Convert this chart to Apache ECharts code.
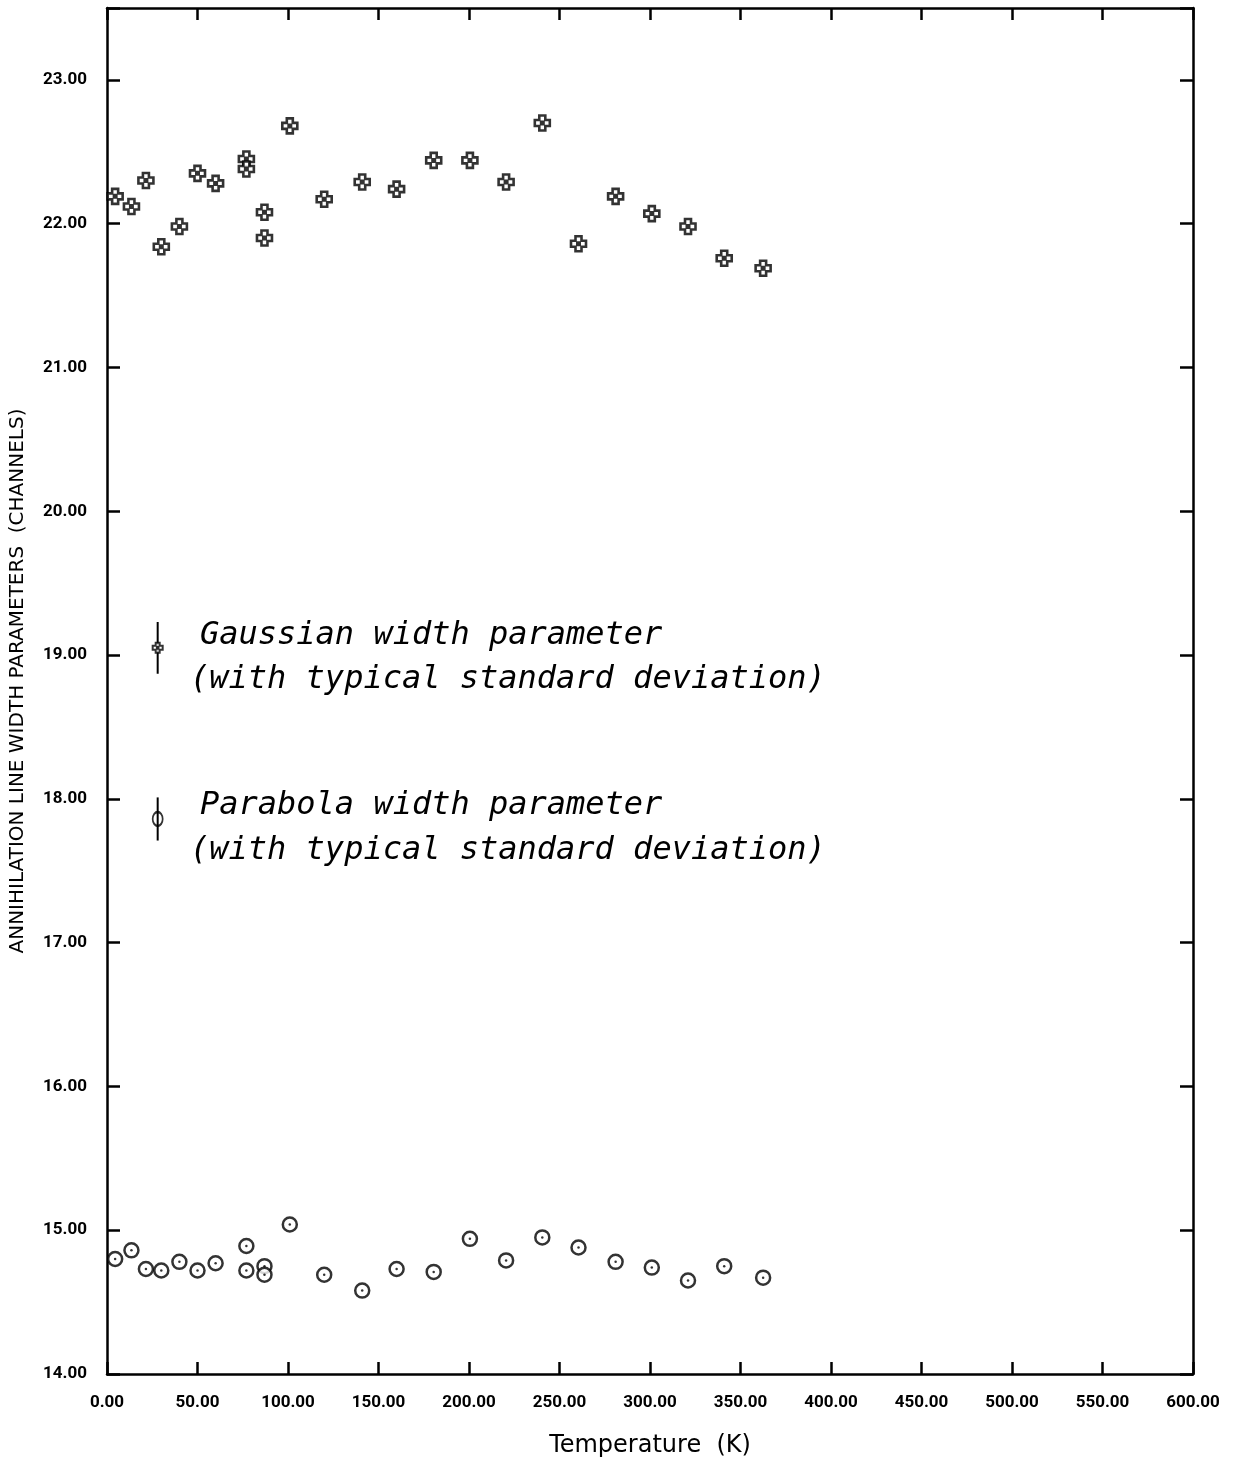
<!DOCTYPE html>
<html>
<head>
<meta charset="utf-8">
<script src="https://cdn.jsdelivr.net/npm/echarts@6.0.0/dist/echarts.min.js"></script>
<style>
  html, body { margin: 0; padding: 0; background: #fff; }
  #chart { width: 1242px; height: 1465px; }
</style>
</head>
<body>
<div id="chart"></div>
<script>
// temperatures (K) of the measurements
var temps = [4.5, 13.5, 21.5, 30, 40, 50, 60, 77, 77, 87, 87, 101, 120, 141, 160,
    180.5, 200.5, 220.5, 240.5, 260.5, 281, 301, 321, 341, 362.5];
// gaussian width parameter (channels)
var gaussian = [22.19, 22.12, 22.30, 21.84, 21.98, 22.35, 22.28, 22.45, 22.38, 22.08, 21.90, 22.68, 22.17,
    22.29, 22.24, 22.44, 22.44, 22.29, 22.70, 21.86, 22.19, 22.07, 21.98, 21.76, 21.69];
// parabola width parameter (channels)
var parabola = [14.80, 14.86, 14.73, 14.72, 14.78, 14.72, 14.77, 14.89, 14.72, 14.75, 14.69, 15.04, 14.69,
    14.58, 14.73, 14.71, 14.94, 14.79, 14.95, 14.88, 14.78, 14.74, 14.65, 14.75, 14.67];
// key samples: [temperature, value, typical standard deviation]
var gaussSample = [28, 19.05, 0.18];
var paraSample = [28, 17.86, 0.15];
var xTicks = { min: 0, max: 600, step: 50 };
var yTicks = { min: 14, max: 23.5, step: 1 };

var crossPath = 'path://M3,0L7,0L7,3L10,3L10,7L7,7L7,10L3,10L3,7L0,7L0,3L3,3ZM4.2,4.2L5.8,4.2L5.8,5.8L4.2,5.8Z';

function pairs(xs, ys) {
    return xs.map(function (x, i) { return [x, ys[i]]; });
}

var chart = echarts.init(document.getElementById('chart'));

var labelFont = { fontFamily: 'Roboto', fontWeight: 'bold', fontSize: 17, color: '#000' };
var lineStyle = { color: '#000', width: 2.5 };

function xAxis(pos, labels) {
    return {
        type: 'value', position: pos,
        min: xTicks.min, max: xTicks.max, interval: xTicks.step,
        axisLine: { show: true, onZero: false, lineStyle: lineStyle },
        axisTick: { show: true, inside: true, length: 12, lineStyle: lineStyle },
        axisLabel: Object.assign({
            show: labels, margin: 20,
            formatter: function (v) { return v.toFixed(2); }
        }, labelFont),
        splitLine: { show: false }
    };
}

function yAxis(pos, labels) {
    return {
        type: 'value', position: pos,
        min: yTicks.min, max: yTicks.max, interval: yTicks.step,
        axisLine: { show: true, onZero: false, lineStyle: lineStyle },
        axisTick: { show: true, inside: true, length: 13, lineStyle: lineStyle },
        axisLabel: Object.assign({
            show: labels, margin: 20,
            formatter: function (v) { return v % 1 === 0 ? v.toFixed(2) : ''; }
        }, labelFont),
        splitLine: { show: false }
    };
}

var xa = xAxis('bottom', true);
xa.name = 'Temperature  (K)';
xa.nameLocation = 'middle';
xa.nameGap = 60;
xa.nameTextStyle = { fontFamily: 'DejaVu Sans', fontSize: 24, color: '#000' };

var ya = yAxis('left', true);
ya.name = 'ANNIHILATION LINE WIDTH PARAMETERS  (CHANNELS)';
ya.nameLocation = 'middle';
ya.nameGap = 79;
ya.nameTextStyle = { fontFamily: 'DejaVu Sans', fontSize: 20, color: '#000', padding: [0, 0, 0, 20] };

function errorBar(params, api) {
    var x = api.value(0), y = api.value(1), sd = api.value(2);
    var top = api.coord([x, y + sd]);
    var bot = api.coord([x, y - sd]);
    return {
        type: 'line',
        shape: { x1: top[0], y1: top[1], x2: bot[0], y2: bot[1] },
        style: { stroke: '#000', lineWidth: 2 }
    };
}

var keyFont = '32px "DejaVu Sans Mono"';
var keyStyle = function (txt) {
    return { text: txt, font: 'oblique ' + keyFont, fill: '#000', verticalAlign: 'middle' };
};

var option = {
    backgroundColor: '#fff',
    animation: false,
    grid: { left: 107, right: 49, top: 8, bottom: 91, outerBoundsMode: 'none' },
    xAxis: [xa, xAxis('top', false)],
    yAxis: [ya, yAxis('right', false)],
    series: [
        {
            type: 'scatter', name: 'Gaussian',
            data: pairs(temps, gaussian),
            symbol: crossPath, symbolSize: 15,
            itemStyle: { color: '#fff', borderColor: '#000', borderWidth: 2.6 }
        },
        {
            type: 'scatter', name: 'Parabola',
            data: pairs(temps, parabola),
            symbol: 'circle', symbolSize: 14,
            itemStyle: { color: '#fff', borderColor: '#000', borderWidth: 2.5 }
        },
        {
            type: 'scatter', name: 'Parabola centre',
            data: pairs(temps, parabola),
            symbol: 'circle', symbolSize: 2.5,
            itemStyle: { color: '#000' }, z: 3
        },
        {
            type: 'custom', name: 'key bars',
            renderItem: errorBar,
            data: [gaussSample, paraSample], z: 1
        },
        {
            type: 'scatter', name: 'key gaussian',
            data: [gaussSample.slice(0, 2)],
            symbol: crossPath, symbolSize: 10,
            itemStyle: { color: '#fff', borderColor: '#000', borderWidth: 2 }, z: 4
        },
        {
            type: 'scatter', name: 'key parabola',
            data: [paraSample.slice(0, 2)],
            symbol: 'circle', symbolSize: [10, 14],
            itemStyle: { color: 'rgba(0,0,0,0)', borderColor: '#000', borderWidth: 2 }, z: 4
        }
    ],
    graphic: [
        { type: 'text', x: 200, y: 636, style: keyStyle('Gaussian width parameter') },
        { type: 'text', x: 190, y: 680, style: keyStyle('(with typical standard deviation)') },
        { type: 'text', x: 200, y: 806, style: keyStyle('Parabola width parameter') },
        { type: 'text', x: 190, y: 851, style: keyStyle('(with typical standard deviation)') }
    ]
};

chart.setOption(option);
</script>
</body>
</html>
